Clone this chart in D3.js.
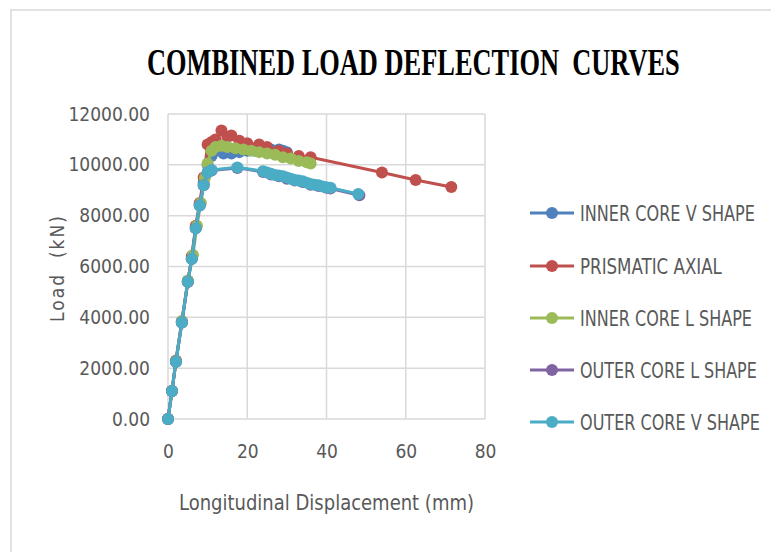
<!DOCTYPE html>
<html>
<head>
<meta charset="utf-8">
<script src="https://cdn.jsdelivr.net/npm/d3@7"></script>
<style>
  body { margin: 0; background: #fff; }
  svg text { font-family: "DejaVu Sans Condensed", "DejaVu Sans", sans-serif; fill: #595959; }
</style>
</head>
<body>
<svg id="chart" width="771" height="552"></svg>
<script>
// Series data (displacement mm, load kN)

const innerV_disp = [0, 1, 2, 3.5, 5, 6, 7, 8, 9, 10, 11, 12, 14, 16, 18, 20, 22, 24, 26, 28, 29, 30];
const innerV_load = [0, 1100, 2250, 3800, 5400, 6300, 7550, 8450, 9300, 10000, 10350, 10550, 10450, 10450, 10500, 10550, 10550, 10600, 10600, 10600, 10550, 10500];

const prism_disp = [0, 1, 2, 3.5, 5, 6, 7, 8, 9, 10, 11, 12, 13.5, 15, 16, 18, 20, 23, 25, 28, 30, 33, 36, 54, 62.5, 71.5];
const prism_load = [0, 1100, 2300, 3850, 5400, 6400, 7600, 8500, 9500, 10800, 10900, 11000, 11350, 11100, 11150, 10950, 10850, 10800, 10700, 10550, 10450, 10350, 10300, 9700, 9400, 9130];

const innerL_disp = [0, 1, 2, 3.5, 5, 6.3, 7.3, 8.3, 9.3, 10, 11, 12, 13.5, 15, 17, 19, 21, 23, 25, 27, 29, 31, 33, 35, 36];
const innerL_load = [0, 1100, 2280, 3850, 5450, 6450, 7600, 8500, 9480, 10050, 10550, 10700, 10750, 10700, 10650, 10600, 10550, 10500, 10450, 10400, 10300, 10250, 10150, 10100, 10050];

const outerL_disp = [0, 1, 2, 3.5, 5, 6, 7, 8, 9, 10, 11, 17.5, 24, 26, 28, 30, 32, 34, 36, 38, 40, 41, 48.3];
const outerL_load = [0, 1100, 2250, 3800, 5400, 6300, 7500, 8400, 9200, 9700, 9780, 9880, 9720, 9620, 9550, 9450, 9380, 9320, 9220, 9170, 9100, 9070, 8800];

const outerV_disp = [0, 1, 2, 3.5, 5, 6, 7, 8, 9, 10, 11, 17.5, 24, 25, 26, 27, 28, 29, 30, 31, 32, 33, 34, 35, 36, 37, 38, 39, 40, 41, 48];
const outerV_load = [0, 1100, 2250, 3800, 5400, 6300, 7500, 8400, 9200, 9700, 9800, 9900, 9750, 9700, 9650, 9600, 9580, 9550, 9500, 9450, 9400, 9380, 9350, 9300, 9250, 9220, 9200, 9150, 9120, 9100, 8850];

const seriesNames = ["INNER CORE V SHAPE", "PRISMATIC AXIAL", "INNER CORE L SHAPE", "OUTER CORE L SHAPE", "OUTER CORE V SHAPE"];
const seriesColors = ["#4F81BD", "#C0504D", "#9BBB59", "#8064A2", "#4BACC6"];
const seriesDisp = [innerV_disp, prism_disp, innerL_disp, outerL_disp, outerV_disp];
const seriesLoad = [innerV_load, prism_load, innerL_load, outerL_load, outerV_load];

const xTicks = [0, 20, 40, 60, 80];
const yTicks = [0, 2000, 4000, 6000, 8000, 10000, 12000];

// Layout

const svg = d3.select('#chart');
const plot = { left: 168, right: 485, top: 114, bottom: 419 };

const x = d3.scaleLinear().domain([0, 80]).range([plot.left, plot.right]);
const y = d3.scaleLinear().domain([0, 12000]).range([plot.bottom, plot.top]);

// squeeze a text horizontally to a given width (narrow fonts of the original)
function squeeze(sel, left, base, width) {
    const len = sel.node().getComputedTextLength();
    sel.attr('transform', `translate(${left},${base}) scale(${width / len},1)`);
}

// chart frame (only top and left edges show in the reference)
svg.append('path')
    .attr('d', 'M11,552 L11,10 L771,10')
    .attr('fill', 'none')
    .attr('stroke', '#d9d9d9')
    .attr('stroke-width', 1.5);

const title = svg.append('text')
    .style('font-family', '"Liberation Serif", "DejaVu Serif", serif')
    .style('font-weight', 'bold')
    .style('font-size', '38px')
    .style('fill', '#000')
    .style('white-space', 'pre')
    .text('COMBINED LOAD DEFLECTION  CURVES');
squeeze(title, 147, 75, 533);

// grid
const grid = svg.append('g');
grid.selectAll('line.h')
    .data(yTicks)
    .join('line')
    .attr('x1', plot.left).attr('x2', plot.right)
    .attr('y1', d => y(d)).attr('y2', d => y(d))
    .attr('stroke', '#d9d9d9').attr('stroke-width', 1.5);
grid.selectAll('line.v')
    .data(xTicks)
    .join('line')
    .attr('y1', plot.top).attr('y2', plot.bottom)
    .attr('x1', d => x(d)).attr('x2', d => x(d))
    .attr('stroke', '#d9d9d9').attr('stroke-width', 1.5);

// axes
const xAxis = d3.axisBottom(x).tickValues(xTicks).tickSize(0).tickPadding(26);
const yAxis = d3.axisLeft(y).tickValues(yTicks).tickSize(0).tickPadding(18).tickFormat(d3.format('.2f'));

svg.append('g')
    .attr('transform', `translate(0,${plot.bottom})`)
    .call(xAxis)
    .call(g => g.select('.domain').remove())
    .selectAll('text')
    .style('font-size', '19px')
    .style('fill', '#595959');

svg.append('g')
    .attr('transform', `translate(${plot.left},0)`)
    .call(yAxis)
    .call(g => g.select('.domain').remove())
    .selectAll('text')
    .style('font-size', '19px')
    .style('fill', '#595959');

const xTitle = svg.append('text')
    .style('font-size', '21px')
    .text('Longitudinal Displacement (mm)');
squeeze(xTitle, 179, 510, 295);

svg.append('text')
    .attr('transform', 'translate(64,268) rotate(-90)')
    .attr('text-anchor', 'middle')
    .style('letter-spacing', '2px')
    .style('white-space', 'pre')
    .style('font-size', '19px')
    .text('Load  (kN)');

// series
const line = d3.line().x(d => x(d[0])).y(d => y(d[1]));

seriesNames.forEach((name, i) => {
    const pts = d3.zip(seriesDisp[i], seriesLoad[i]);
    const g = svg.append('g').attr('class', 'series');
    g.append('path')
        .datum(pts)
        .attr('d', line)
        .attr('fill', 'none')
        .attr('stroke', seriesColors[i])
        .attr('stroke-width', 3);
    g.selectAll('circle')
        .data(pts)
        .join('circle')
        .attr('cx', d => x(d[0]))
        .attr('cy', d => y(d[1]))
        .attr('r', 6)
        .attr('fill', seriesColors[i]);
});

// legend
const legend = svg.append('g');
const legendY = [213, 266, 318, 370, 422];
const legendWidth = [175, 142, 172, 177, 180];
seriesNames.forEach((name, i) => {
    const g = legend.append('g').attr('transform', `translate(530,${legendY[i]})`);
    g.append('line')
        .attr('x1', 0).attr('x2', 44)
        .attr('stroke', seriesColors[i]).attr('stroke-width', 3);
    g.append('circle')
        .attr('cx', 22).attr('r', 6)
        .attr('fill', seriesColors[i]);
    const t = g.append('text')
        .style('font-size', '22px')
        .text(name);
    squeeze(t, 50, 8, legendWidth[i]);
});
</script>
</body>
</html>
